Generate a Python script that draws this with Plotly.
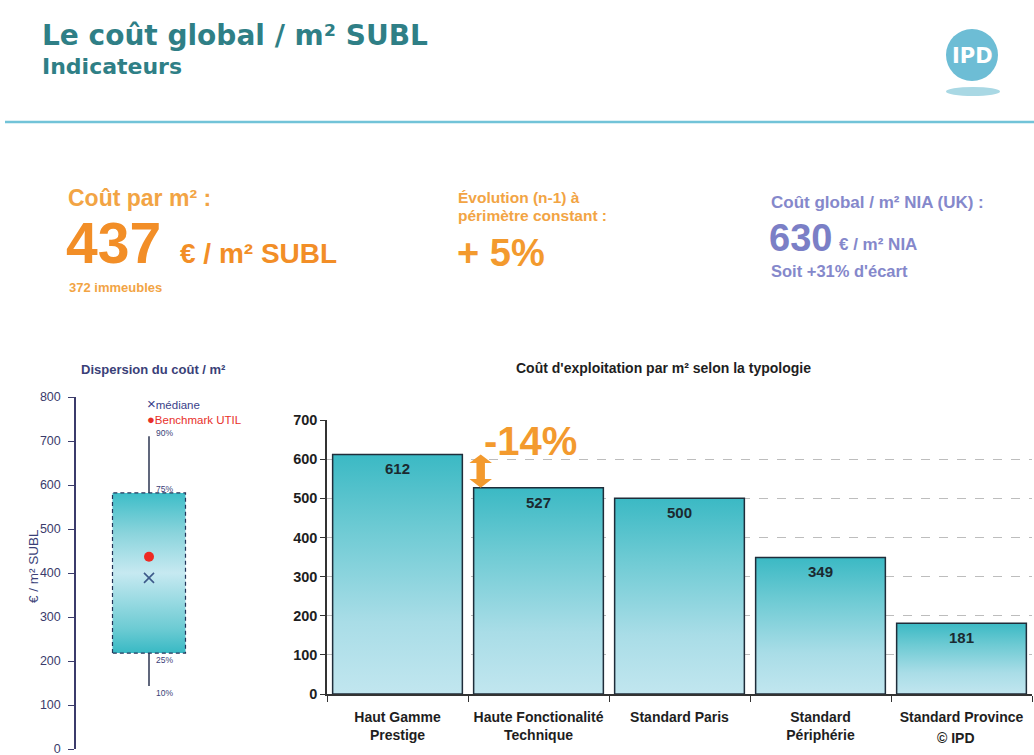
import plotly.graph_objects as go

# ---- data -------------------------------------------------------------
categories = ["Haut Gamme<br>Prestige", "Haute Fonctionalité<br>Technique",
              "Standard Paris", "Standard<br>Périphérie", "Standard Province"]
values = [612, 527, 500, 349, 181]

box_percentiles = ["10%", "25%", "75%", "90%"]
box_values = [143, 218, 582, 711]
median_value = 389
benchmark_value = 437

cost_per_m2 = 437
building_count = 372
evolution_pct = 5
nia_cost = 630
nia_gap_pct = 31

# ---- helpers ----------------------------------------------------------
W, H = 1034, 755
FONT = "Liberation Sans, Arial, sans-serif"
HEAVY = "DejaVu Sans, Liberation Sans, sans-serif"


def fx(p):
    return p / W


def fy(p):
    return 1 - p / H


TEAL_DARK = "#2f7f86"
ORANGE = "#f39a2e"
ORANGE_LIGHT = "#f2a444"
PURPLE = "#8588cb"
NAVY = "#3a3f78"

fig = go.Figure()

# ---- bar chart (gradient-filled bars) ---------------------------------
bar_half = 0.46
bar_scale = [[0, "#c1e6ef"], [0.3, "#a9dde7"], [0.7, "#6ccad3"], [1, "#3bb9c4"]]
for i, v in enumerate(values):
    fig.add_trace(go.Scatter(
        x=[i - bar_half, i - bar_half, i + bar_half, i + bar_half, i - bar_half],
        y=[0, v, v, 0, 0],
        mode="lines", fill="toself",
        fillgradient=dict(type="vertical", colorscale=bar_scale),
        line=dict(color="#1f2d3a", width=1.5),
        hoverinfo="skip", showlegend=False, xaxis="x2", yaxis="y2"))

# ---- dispersion box ---------------------------------------------------
p10, p25, p75, p90 = box_values
fig.add_trace(go.Scatter(
    x=[1, 1], y=[p10, p90], mode="lines",
    line=dict(color="#2b3550", width=1.5),
    hoverinfo="skip", showlegend=False, xaxis="x", yaxis="y"))
box_scale = [[0, "#38b9c4"], [0.15, "#6ccbd3"], [0.5, "#c6e9f1"],
             [0.75, "#8ad4dc"], [1, "#3dbdc8"]]
fig.add_trace(go.Scatter(
    x=[0.5, 0.5, 1.5, 1.5, 0.5], y=[p25, p75, p75, p25, p25],
    mode="lines", fill="toself",
    fillgradient=dict(type="vertical", colorscale=box_scale),
    line=dict(color="#23355a", width=1.2, dash="4px,3px"),
    hoverinfo="skip", showlegend=False, xaxis="x", yaxis="y"))
fig.add_trace(go.Scatter(
    x=[1], y=[median_value], mode="markers",
    marker=dict(symbol="x-thin", size=10, line=dict(color="#3d5a8a", width=1.6)),
    hoverinfo="skip", showlegend=False, xaxis="x", yaxis="y"))
fig.add_trace(go.Scatter(
    x=[1], y=[benchmark_value], mode="markers",
    marker=dict(symbol="circle", size=10, color="#ee2a23"),
    hoverinfo="skip", showlegend=False, xaxis="x", yaxis="y"))

annotations = []


def note(x, y, text, size, color, weight="normal", family=FONT, xanchor="left",
         xref="paper", yref="paper", **kw):
    d = dict(x=x, y=y, xref=xref, yref=yref, text=text, showarrow=False,
             xanchor=xanchor, yanchor=kw.pop("yanchor", "middle"),
             font=dict(family=family, size=size, color=color, weight=weight))
    d.update(kw)
    annotations.append(d)


# value labels inside the bars
for i, v in enumerate(values):
    note(i, v, str(v), 15, "#1b2a30", "bold", xanchor="center",
         xref="x2", yref="y2", yanchor="top", yshift=-4)

# percentile labels beside the box and whisker ends
label_shift = {"10%": -7, "25%": -7, "75%": 4, "90%": 3}
for lab, val in zip(box_percentiles, box_values):
    note(1.07, val, lab, 8.5, NAVY, xref="x", yref="y", yshift=label_shift[lab])

# box legend
note(fx(145), fy(411),
     "<span style='color:#3a3f8a'><span style='font-size:15px'>×</span>médiane</span><br>"
     "<span style='color:#e8302a'><span style='font-size:13px'>●</span>Benchmark UTIL</span>",
     11.5, "#3a3f8a", align="left")

# axis title for the box
note(fx(33), fy(566), "€ / m² SUBL", 13.5, NAVY, xanchor="center", textangle=-90)

# chart titles
note(fx(153), fy(369), "Dispersion du coût / m²", 13, NAVY, "bold", xanchor="center")
note(fx(663), fy(368), "Coût d'exploitation par m² selon la typologie", 14,
     "#1e1e1e", "bold", xanchor="center")

# gap between the two first categories: double-headed arrow
gap_pct = round((values[1] - values[0]) / values[0] * 100)
ax_x = 0.59
head_w = 0.08
head_h = 22
shaft_w = 0.03
arrow_path = (
    f"M {ax_x - head_w},{values[0] - head_h} L {ax_x},{values[0]} "
    f"L {ax_x + head_w},{values[0] - head_h} L {ax_x + shaft_w},{values[0] - head_h} "
    f"L {ax_x + shaft_w},{values[1] + head_h} L {ax_x + head_w},{values[1] + head_h} "
    f"L {ax_x},{values[1]} L {ax_x - head_w},{values[1] + head_h} "
    f"L {ax_x - shaft_w},{values[1] + head_h} L {ax_x - shaft_w},{values[0] - head_h} Z"
)
note(0.6, 646, f"{gap_pct}%", 40, ORANGE, "bold", xref="x2", yref="y2")

note(fx(935), fy(738), "© IPD", 14, "#1e1e1e", "bold")

# ---- header -----------------------------------------------------------
note(fx(40), fy(35), "Le coût global / m² SUBL", 28, TEAL_DARK, "bold", family=HEAVY)
note(fx(40), fy(67), "Indicateurs", 22, TEAL_DARK, "bold", family=HEAVY)
note(fx(972), fy(56), "IPD", 21, "white", "bold", family=HEAVY, xanchor="center")

# ---- key figures ------------------------------------------------------
note(fx(66), fy(198), "Coût par m² :", 23, ORANGE_LIGHT, "bold")
note(fx(64), fy(243), str(cost_per_m2), 57, "#f28e27", "bold")
note(fx(178), fy(253), "€ / m² SUBL", 28, "#f28e27", "bold")
note(fx(67), fy(287), f"{building_count} immeubles", 13, ORANGE_LIGHT, "bold")
note(fx(456), fy(198), "Évolution (n-1) à", 15.5, ORANGE_LIGHT, "bold")
note(fx(456), fy(215), "périmètre constant :", 15.5, ORANGE_LIGHT, "bold")
note(fx(455), fy(253), f"+ {evolution_pct}%", 38, ORANGE, "bold")
note(fx(769), fy(202), "Coût global / m² NIA (UK) :", 17, PURPLE, "bold")
note(fx(767), fy(238), str(nia_cost), 38, "#7b7fc6", "bold")
note(fx(837), fy(244), "€ / m² NIA", 17, PURPLE, "bold")
note(fx(769), fy(271), f"Soit +{nia_gap_pct}% d'écart", 16.5, PURPLE, "bold")

shapes = [
    # header rule
    dict(type="line", xref="paper", yref="paper", x0=fx(5), x1=1, y0=fy(122), y1=fy(122),
         line=dict(color="#72c3d8", width=2.5)),
    # logo
    dict(type="circle", xref="paper", yref="paper", x0=fx(946), x1=fx(998),
         y0=fy(81), y1=fy(29), fillcolor="#6dbdd5", line=dict(width=0)),
    dict(type="circle", xref="paper", yref="paper", x0=fx(946), x1=fx(1000),
         y0=fy(96), y1=fy(87), fillcolor="#a9d8e4", line=dict(width=0)),
    # arrow between the two first bars
    dict(type="path", xref="x2", yref="y2", path=arrow_path,
         fillcolor=ORANGE, line=dict(width=0)),
]

fig.update_layout(
    width=W, height=H, autosize=False,
    margin=dict(l=0, r=0, t=0, b=0, autoexpand=False),
    paper_bgcolor="white", plot_bgcolor="rgba(0,0,0,0)",
    showlegend=False,
    annotations=annotations, shapes=shapes,
    xaxis=dict(domain=[fx(76), fx(222)], range=[0, 2], visible=False,
               fixedrange=True, automargin=False),
    yaxis=dict(domain=[fy(749), fy(397)], range=[0, 800], dtick=100,
               showgrid=False, zeroline=False, showline=True,
               linecolor="#3b3b6b", linewidth=1.5,
               ticks="outside", ticklen=6, tickcolor="#3b3b6b",
               ticklabelstandoff=5, automargin=False, ticklabeloverflow="allow",
               tickfont=dict(family=FONT, size=12.5, color="#3b3b6b"),
               anchor="x"),
    xaxis2=dict(domain=[fx(327), fx(1032)], range=[-0.5, 4.5],
                tickvals=list(range(len(categories))), ticktext=categories,
                ticks="", showgrid=False, zeroline=False, showline=True,
                linecolor="#333333", linewidth=1.5, ticklabelstandoff=9,
                automargin=False, ticklabeloverflow="allow",
                tickfont=dict(family=FONT, size=14, color="#1e1e1e", weight="bold"),
                minor=dict(tickmode="linear", tick0=-0.5, dtick=1, ticks="outside",
                           ticklen=6, tickcolor="#333333", showgrid=False),
                anchor="y2"),
    yaxis2=dict(domain=[fy(694), fy(420)], range=[0, 700], dtick=100,
                showgrid=True, gridcolor="#bdbdbd", griddash="dash", gridwidth=1,
                zeroline=False, showline=True, linecolor="#333333", linewidth=1.5,
                ticks="outside", ticklen=5, tickcolor="#333333", automargin=False,
                tickfont=dict(family=FONT, size=14.5, color="#1e1e1e", weight="bold"),
                anchor="x2"),
)

fig.write_html("out.html")
